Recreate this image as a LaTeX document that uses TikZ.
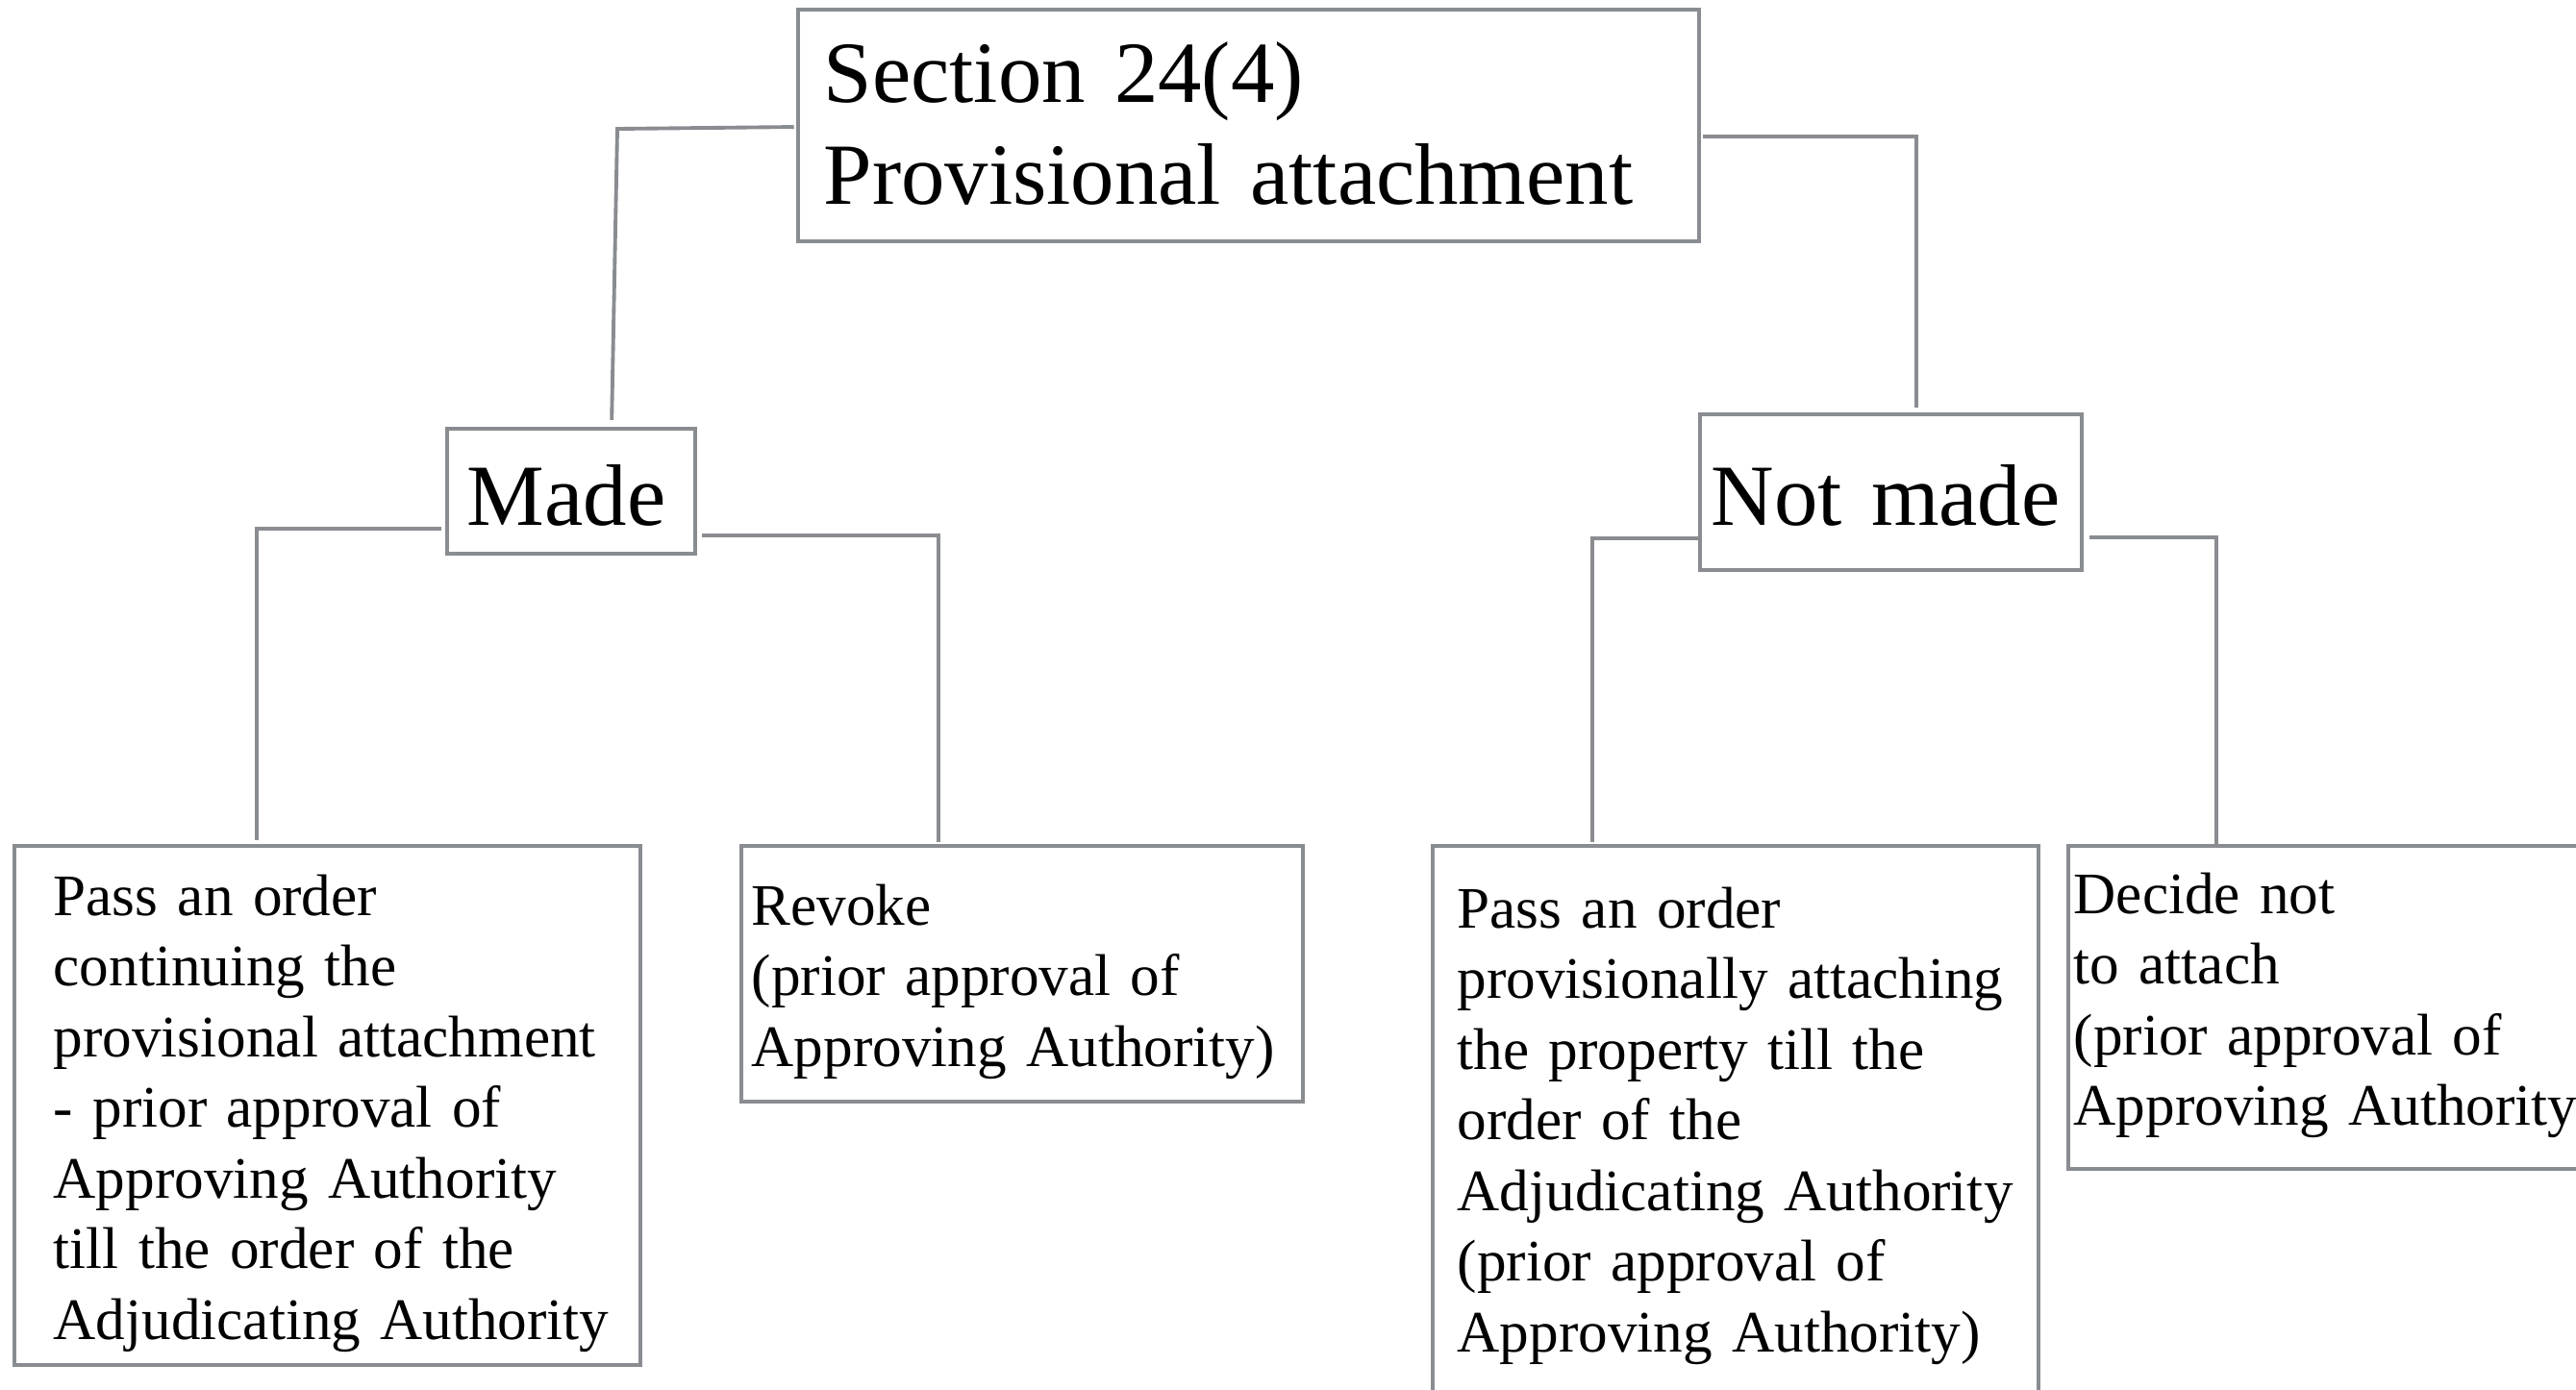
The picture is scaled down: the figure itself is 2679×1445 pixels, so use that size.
\documentclass[tikz,border=0pt]{standalone}
\usepackage{fontspec}
\setmainfont{Liberation Serif}
\definecolor{linegray}{HTML}{898C90}
\newcommand{\bigfnt}{\fontsize{25.8}{30.2}\selectfont\fontdimen2\font=4.7pt\relax}
\newcommand{\smallfnt}{\fontsize{17.4}{20.9}\selectfont\fontdimen2\font=3.2pt\relax}
\begin{document}
\begin{tikzpicture}[x=0.01cm,y=-0.01cm,
  box/.style={draw=linegray,line width=1.2pt,rectangle,inner sep=0pt,outer sep=0pt},
  conn/.style={draw=linegray,line width=1.1pt},
  bigtext/.style={anchor=base west,inner sep=0pt,text width=9cm,align=left,font=\bigfnt},
  smalltext/.style={anchor=base west,inner sep=0pt,text width=6.2cm,align=left,font=\smallfnt}]
\useasboundingbox (0,0) rectangle (2679,1445);
\clip (0,0) rectangle (2679,1445);

% boxes
\node[box,minimum width=9.37cm,minimum height=2.41cm] (top) at (1298.5,130.5) {};
\node[box,minimum width=2.58cm,minimum height=1.30cm] (made) at (594,511) {};
\node[box,minimum width=3.97cm,minimum height=1.62cm] (notmade) at (1966.5,512) {};
\node[box,minimum width=6.51cm,minimum height=5.40cm] (boxA) at (340.5,1150) {};
\node[box,minimum width=5.84cm,minimum height=2.66cm] (boxB) at (1063,1013) {};
\node[box,minimum width=6.30cm,minimum height=5.90cm] (boxC) at (1805,1175) {};
\node[box,minimum width=5.49cm,minimum height=3.36cm] (boxD) at (2425.5,1048) {};

% texts
\node[bigtext] (ttop) at (856,106) {Section 24(4)\\Provisional attachment};
\node[bigtext] (tmade) at (485,546) {Made};
\node[bigtext] (tnotmade) at (1779,546) {Not made};
\node[smalltext] (tA) at (55,952) {Pass an order\\continuing the\\provisional attachment\\- prior approval of\\Approving Authority\\till the order of the\\Adjudicating Authority};
\node[smalltext] (tB) at (781,962) {Revoke\\(prior approval of\\Approving Authority)};
\node[smalltext] (tC) at (1515,965) {Pass an order\\provisionally attaching\\the property till the\\order of the\\Adjudicating Authority\\(prior approval of\\Approving Authority)};
\node[smalltext] (tD) at (2156,950) {Decide not\\to attach\\(prior approval of\\Approving Authority};

% connectors
\draw[conn,shorten <=0.04cm,shorten >=0.09cm] (top.west |- 0,132) -- (642,134) -- (made.north -| 636,0);
\draw[conn,shorten <=0.04cm,shorten >=0.07cm] (top.east |- 0,142) -- (1993,142) -- (notmade.north -| 1993,0);
\draw[conn,shorten <=0.06cm,shorten >=0.06cm] (made.west |- 0,550) -- (267,550) -- (boxA.north -| 267,0);
\draw[conn,shorten <=0.07cm,shorten >=0.04cm] (made.east |- 0,557) -- (976,557) -- (boxB.north -| 976,0);
\draw[conn,shorten >=0.04cm] (notmade.west |- 0,560) -- (1656,560) -- (boxC.north -| 1656,0);
\draw[conn,shorten <=0.08cm] (notmade.east |- 0,559) -- (2305,559) -- (boxD.north -| 2305,0);
\end{tikzpicture}
\end{document}
